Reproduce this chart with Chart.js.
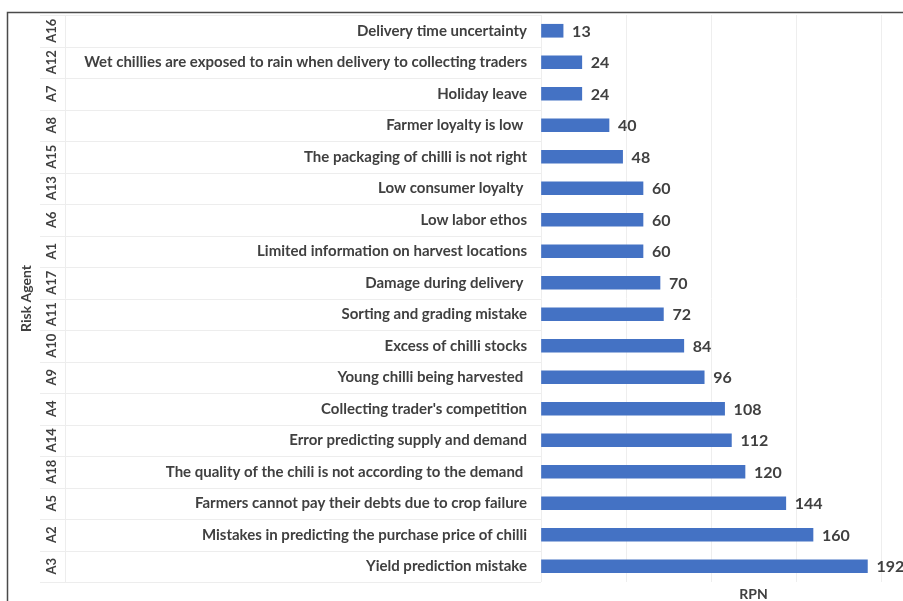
<!DOCTYPE html>
<html>
<head>
<meta charset="utf-8">
<script src="https://cdn.jsdelivr.net/npm/chart.js@4.4.1/dist/chart.umd.min.js"></script>
<style>
  html, body { margin: 0; padding: 0; background: #fff; overflow: hidden; }
  #wrap { width: 975px; height: 601px; }
</style>
</head>
<body>
<div id="wrap"><canvas id="rpn-chart" width="975" height="601"></canvas></div>
<script>
  const codes = ['A16', 'A12', 'A7', 'A8', 'A15', 'A13', 'A6', 'A1', 'A17',
    'A11', 'A10', 'A9', 'A4', 'A14', 'A18', 'A5', 'A2', 'A3'];
  const agents = [
    'Delivery time uncertainty',
    'Wet chillies are exposed to rain when delivery to collecting traders',
    'Holiday leave',
    'Farmer loyalty is low ',
    'The packaging of chilli is not right',
    'Low consumer loyalty ',
    'Low labor ethos',
    'Limited information on harvest locations',
    'Damage during delivery ',
    'Sorting and grading mistake',
    'Excess of chilli stocks',
    'Young chilli being harvested ',
    "Collecting trader's competition",
    'Error predicting supply and demand',
    'The quality of the chili is not according to the demand ',
    'Farmers cannot pay their debts due to crop failure',
    'Mistakes in predicting the purchase price of chilli',
    'Yield prediction mistake'
  ];
  const rpn = [13, 24, 24, 40, 48, 60, 60, 60, 70, 72, 84, 96, 108, 112, 120, 144, 160, 192];

  const textColor = '#404040';
  const labelFont = 'Lato, sans-serif';

  // codes column, separators, value labels, frame
  const extras = {
    id: 'extras',
    beforeDraw(chart) {
      const ctx = chart.ctx;
      const y = chart.scales.y;
      const area = chart.chartArea;
      ctx.save();
      ctx.strokeStyle = '#ededed';
      ctx.lineWidth = 1;
      const step = y.getPixelForValue(1) - y.getPixelForValue(0);
      for (let i = 0; i <= codes.length; i++) {
        const py = Math.round(y.getPixelForValue(i) - step / 2) + 0.5;
        ctx.beginPath();
        ctx.moveTo(40, py);
        ctx.lineTo(area.left, py);
        ctx.stroke();
      }
      ctx.beginPath();
      ctx.moveTo(65.5, area.top);
      ctx.lineTo(65.5, area.bottom);
      ctx.stroke();
      ctx.restore();
    },
    afterDraw(chart) {
      const ctx = chart.ctx;
      const x = chart.scales.x;
      const y = chart.scales.y;
      ctx.save();
      // codes, rotated
      ctx.fillStyle = textColor;
      ctx.font = 'bold 13px ' + labelFont;
      ctx.textAlign = 'center';
      ctx.textBaseline = 'middle';
      codes.forEach((c, i) => {
        ctx.save();
        ctx.translate(52, y.getPixelForValue(i));
        ctx.rotate(-Math.PI / 2);
        ctx.fillText(c, 0, 0);
        ctx.restore();
      });
      // axis title on the left
      ctx.save();
      ctx.font = 'bold 14px ' + labelFont;
      ctx.translate(26, (chart.chartArea.top + chart.chartArea.bottom) / 2);
      ctx.rotate(-Math.PI / 2);
      ctx.fillText('Risk Agent', 0, 0);
      ctx.restore();
      // value labels
      ctx.font = 'bold 16px ' + labelFont;
      ctx.textAlign = 'left';
      rpn.forEach((v, i) => {
        ctx.fillText(String(v), x.getPixelForValue(v) + 9, y.getPixelForValue(i) + 1);
      });
      // frame
      ctx.strokeStyle = '#4a4a4a';
      ctx.lineWidth = 1.5;
      ctx.beginPath();
      ctx.moveTo(7.5, 601);
      ctx.lineTo(7.5, 12.5);
      ctx.lineTo(975, 12.5);
      ctx.stroke();
      ctx.restore();
    }
  };

  new Chart(document.getElementById('rpn-chart').getContext('2d'), {
    type: 'bar',
    data: {
      labels: agents,
      datasets: [{
        label: 'RPN',
        data: rpn,
        backgroundColor: '#4472C4',
        barThickness: 13
      }]
    },
    options: {
      indexAxis: 'y',
      responsive: false,
      animation: false,
      layout: { padding: { top: 15, right: 9, left: 0, bottom: 0 } },
      plugins: {
        legend: { display: false },
        tooltip: { enabled: false }
      },
      scales: {
        x: {
          min: 0,
          max: 250,
          ticks: { display: false, stepSize: 50 },
          grid: { color: '#eeeeee', drawTicks: false },
          border: { display: false },
          title: {
            display: true,
            text: 'RPN',
            color: textColor,
            font: { family: labelFont, size: 14, weight: 'bold' },
            padding: { top: 6, bottom: -2 }
          },
          afterFit(scale) { scale.height = 19; }
        },
        y: {
          grid: {
            color: 'rgba(0,0,0,0)',
            drawOnChartArea: false,
            drawTicks: true,
            tickLength: 14
          },
          border: { display: false },
          ticks: {
            color: textColor,
            padding: 0,
            autoSkip: false,
            font: { family: labelFont, size: 15, weight: 'bold' }
          },
          afterFit(scale) { scale.width = 541; }
        }
      }
    },
    plugins: [extras]
  });
</script>
</body>
</html>
